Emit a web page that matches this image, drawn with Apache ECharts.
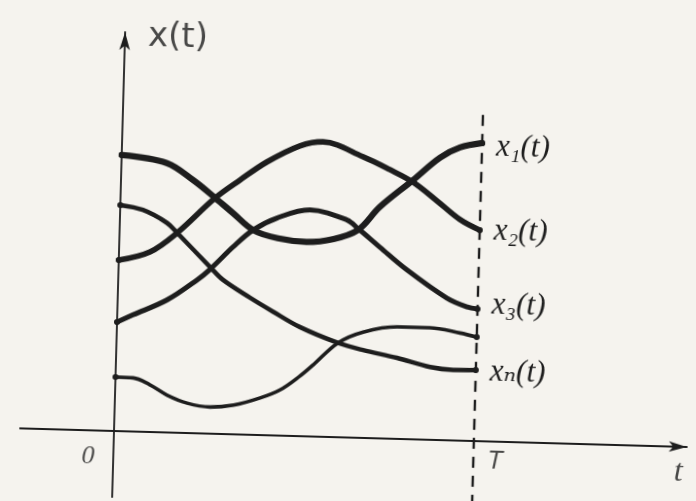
<!DOCTYPE html>
<html>
<head>
<meta charset="utf-8">
<script src="https://cdn.jsdelivr.net/npm/echarts@6/dist/echarts.min.js"></script>
<style>
  html, body { margin: 0; padding: 0; background: #f5f3ee; overflow: hidden; }
  #chart {
    width: 696px; height: 501px;
    /* the whole drawing sits slightly turned, pivoting on the origin */
    transform: rotate(1.6deg);
    transform-origin: 114px 431px;
  }
</style>
</head>
<body>
<div id="chart"></div>
<script>
// Realizations x_i(t) of a random process on the interval [0, T]
const T_END = 10;

const x1T = [0, 1.26, 2.0, 2.63, 3.14, 3.71, 4.4, 5.2, 5.95, 6.62, 7.21, 8.11, 8.84, 9.39, 10];
const x1V = [7.67, 7.48, 7.03, 6.55, 6.14, 5.69, 5.48, 5.4, 5.5, 5.77, 6.43, 7.2, 7.84, 8.14, 8.28];

const x2T = [0, 0.86, 1.6, 2.63, 3.31, 4.04, 4.94, 5.58, 6.7, 7.46, 8.11, 8.79, 9.44, 10];
const x2V = [4.75, 5.0, 5.55, 6.55, 7.07, 7.59, 8.06, 8.19, 7.81, 7.47, 7.14, 6.64, 6.14, 5.86];

const x3T = [0, 0.44, 1.37, 2.19, 2.54, 3.16, 3.71, 4.36, 5.27, 6.31, 6.62, 7.24, 8.01, 9.14, 9.71, 10];
const x3V = [3.03, 3.24, 3.68, 4.26, 4.56, 5.2, 5.69, 6.04, 6.29, 6.04, 5.81, 5.31, 4.7, 3.95, 3.72, 3.67];

const x4T = [0, 0.49, 0.96, 1.44, 2.01, 2.65, 3.3, 4.03, 4.58, 5.12, 5.48, 6.15, 6.84, 7.78, 8.69, 9.53, 10];
const x4V = [1.5, 1.49, 1.31, 1.04, 0.83, 0.74, 0.81, 1.03, 1.27, 1.67, 1.99, 2.62, 2.94, 3.11, 3.11, 2.99, 2.89];

const xnT = [0, 0.63, 1.31, 1.6, 2.54, 2.91, 3.67, 4.32, 5.08, 6.15, 6.85, 7.8, 8.73, 9.37, 10];
const xnV = [6.28, 6.16, 5.82, 5.55, 4.63, 4.28, 3.81, 3.44, 3.03, 2.62, 2.44, 2.25, 2.02, 1.96, 1.97];

const curveNames = ['x\u2081(t)', 'x\u2082(t)', 'x\u2083(t)', '', 'x\u2099(t)'];

// Axis captions
const captionTexts = ['x(t)', '0', 'T', 't'];

// ---- presentation ----
const INK = '#1d1d1d';
const captionAt = [[1.47, 10.98], [-0.7, -0.74], [10.6, -0.57], [15.7, -0.72]];
const captionStyle = [
  { fontSize: 34, fontFamily: 'DejaVu Sans', fontStyle: 'normal' },
  { fontSize: 26, fontFamily: 'Liberation Serif', fontStyle: 'italic' },
  { fontSize: 25, fontFamily: 'Liberation Sans', fontStyle: 'italic' },
  { fontSize: 32, fontFamily: 'Liberation Serif', fontStyle: 'italic' }
];
const widths = [6.2, 5.6, 5, 3.6, 4.5];
const labelShift = [[0, 4], [0, 1], [0, -4], [0, 0], [0, 2]];

const zip = (ts, vs) => ts.map((t, i) => [t, vs[i]]);
const curves = [zip(x1T, x1V), zip(x2T, x2V), zip(x3T, x3V), zip(x4T, x4V), zip(xnT, xnV)];

const chart = echarts.init(document.getElementById('chart'), null, { renderer: 'canvas' });

const axisCommon = {
  type: 'value',
  axisTick: { show: false },
  axisLabel: { show: false },
  splitLine: { show: false }
};

const curveSeries = curves.map((pts, k) => ({
  type: 'line',
  name: curveNames[k],
  data: pts,
  smooth: 0.35,
  showSymbol: true,
  showAllSymbol: true,
  symbol: 'circle',
  symbolSize: (v, p) => (p.dataIndex === 0 || p.dataIndex === pts.length - 1) ? 6 : 0,
  itemStyle: { color: INK },
  lineStyle: { color: INK, width: widths[k], cap: 'round', join: 'round' },
  clip: false,
  silent: true,
  z: 3,
  endLabel: {
    show: curveNames[k] !== '',
    formatter: '{a}',
    distance: 14,
    offset: labelShift[k],
    color: INK,
    fontSize: 31,
    fontStyle: 'italic',
    fontFamily: 'Liberation Serif, DejaVu Serif, serif'
  }
}));

chart.setOption({
  backgroundColor: 'transparent',
  animation: false,
  grid: { left: 20, right: 9, top: 32, bottom: 4 },
  xAxis: Object.assign({}, axisCommon, {
    min: -2.611, max: 15.917,
    axisLine: {
      onZero: true,
      symbol: ['none', 'arrow'],
      symbolSize: [8, 18],
      lineStyle: { color: INK, width: 1.8 }
    }
  }),
  yAxis: Object.assign({}, axisCommon, {
    min: -1.833, max: 11.083,
    axisLine: {
      onZero: true,
      symbol: ['none', 'arrow'],
      symbolSize: [8, 18],
      lineStyle: { color: INK, width: 1.8 }
    }
  }),
  series: curveSeries.concat([
    {
      // the dashed boundary t = T
      type: 'line',
      data: [[T_END, -1.8], [T_END, 9.25]],
      showSymbol: false,
      lineStyle: { color: INK, width: 2.4, type: [11, 8] },
      clip: false,
      silent: true,
      z: 2
    },
    {
      type: 'scatter',
      data: captionAt.map((p, i) => ({
        value: p,
        label: Object.assign({
          show: true,
          position: 'inside',
          formatter: captionTexts[i],
          color: INK
        }, captionStyle[i])
      })),
      symbolSize: 0,
      clip: false,
      silent: true
    }
  ])
});
</script>
</body>
</html>
